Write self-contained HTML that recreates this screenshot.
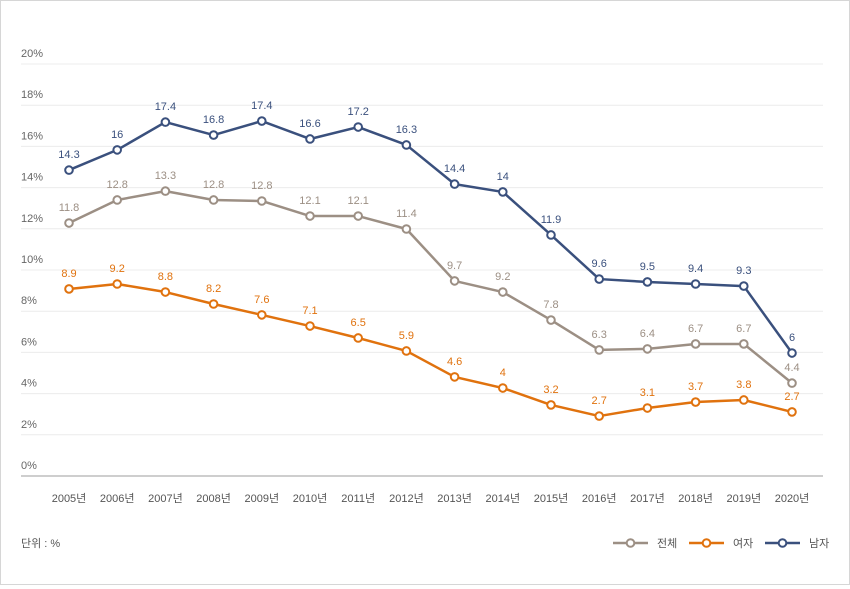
<!DOCTYPE html>
<html><head><meta charset="utf-8"><style>
body{margin:0;background:#fff;font-family:"Liberation Sans","Noto Sans CJK KR",sans-serif}
#wrap{position:relative;width:848px;height:583px;border:1px solid #d6d6d6;background:#fff}
svg text{font-family:"Liberation Sans","Noto Sans CJK KR",sans-serif}
</style></head><body>
<div id="wrap">
<svg id="chart" width="848" height="583"></svg>
</div>
<script>
const years=["2005년","2006년","2007년","2008년","2009년","2010년","2011년","2012년","2013년","2014년","2015년","2016년","2017년","2018년","2019년","2020년"];
const yTicks=[0,2,4,6,8,10,12,14,16,18,20];
const maleVals=[14.85,15.83,17.18,16.55,17.23,16.36,16.94,16.07,14.17,13.79,11.7,9.56,9.42,9.32,9.22,5.97];
const maleLabels=["14.3","16","17.4","16.8","17.4","16.6","17.2","16.3","14.4","14","11.9","9.6","9.5","9.4","9.3","6"];
const totalVals=[12.28,13.4,13.83,13.4,13.35,12.62,12.62,11.99,9.47,8.93,7.57,6.12,6.17,6.41,6.41,4.51];
const totalLabels=["11.8","12.8","13.3","12.8","12.8","12.1","12.1","11.4","9.7","9.2","7.8","6.3","6.4","6.7","6.7","4.4"];
const femaleVals=[9.08,9.32,8.93,8.35,7.82,7.28,6.7,6.07,4.81,4.27,3.45,2.91,3.3,3.59,3.69,3.11];
const femaleLabels=["8.9","9.2","8.8","8.2","7.6","7.1","6.5","5.9","4.6","4","3.2","2.7","3.1","3.7","3.8","2.7"];

const NS="http://www.w3.org/2000/svg";
const svg=document.getElementById('chart');
const X=i=>68+i*48.2, Y=v=>475-v*20.6;
function mk(t,a,p){const e=document.createElementNS(NS,t);for(const k in a)e.setAttribute(k,a[k]);(p||svg).appendChild(e);return e;}
yTicks.forEach(v=>{
  const l=mk('line',{x1:20,x2:822,y1:Y(v),y2:Y(v),stroke:v===0?'#bdbdbd':'#ececec','stroke-width':v===0?1.5:1});
  
  
  const t=mk('text',{x:20,y:Y(v)-7,'font-size':11,fill:'#666'});t.textContent=v+'%';
  
  
});
years.forEach((y,i)=>{
  const t=mk('text',{x:X(i),y:501,'font-size':11,fill:'#555','text-anchor':'middle'});t.textContent=y;
  
  
});
function series(vals,labels,color,lc,name){
  const g=mk('g',{});
  
  
  mk('polyline',{points:vals.map((v,i)=>X(i)+','+Y(v)).join(' '),fill:'none',stroke:color,'stroke-width':2.5,'stroke-linejoin':'round'},g);
  vals.forEach((v,i)=>{
    const c=mk('circle',{cx:X(i),cy:Y(v),r:3.8,fill:'#fff',stroke:color,'stroke-width':2},g);
    
    
    const t=mk('text',{x:X(i),y:Y(v)-12,'font-size':11,fill:lc,'text-anchor':'middle'},g);t.textContent=labels[i];
    
    
  });
}
series(totalVals,totalLabels,'#9c8f84','#9c8f84','total');
series(femaleVals,femaleLabels,'#e0720e','#e0720e','female');
series(maleVals,maleLabels,'#3a507d','#3a507d','male');
const u=mk('text',{x:20,y:546,'font-size':11,fill:'#555'});u.textContent='단위 : %';


[['전체','#9c8f84',612],['여자','#e0720e',688],['남자','#3a507d',764]].forEach(([n,c,x])=>{
  const g=mk('g',{});
  
  
  mk('line',{x1:x,x2:x+35,y1:542,y2:542,stroke:c,'stroke-width':2.5},g);
  mk('circle',{cx:x+17.5,cy:542,r:3.8,fill:'#fff',stroke:c,'stroke-width':2},g);
  const t=mk('text',{x:x+44,y:546,'font-size':11,fill:'#555'},g);t.textContent=n;
});
</script>
</body></html>
